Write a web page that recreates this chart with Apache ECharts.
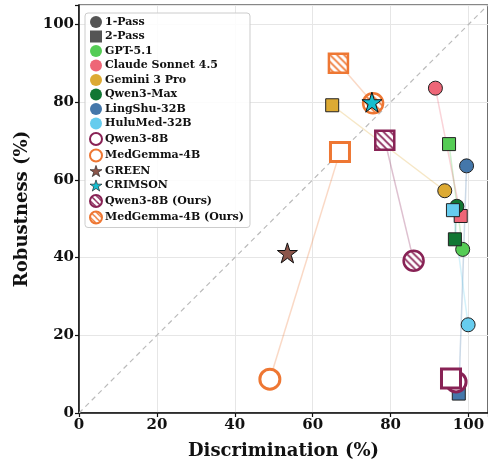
<!DOCTYPE html>
<html>
<head>
<meta charset="utf-8">
<script src="https://cdn.jsdelivr.net/npm/echarts@6/dist/echarts.min.js"></script>
<style>
html,body{margin:0;padding:0;background:#fff;}
#chart{width:488px;height:461px;}
</style>
</head>
<body>
<div id="chart"></div>
<script>
// ---------------- DATA ----------------
const models = ['GPT-5.1', 'Claude Sonnet 4.5', 'Gemini 3 Pro', 'Qwen3-Max', 'LingShu-32B', 'HuluMed-32B', 'Qwen3-8B', 'MedGemma-4B', 'Qwen3-8B (Ours)', 'MedGemma-4B (Ours)'];
const pass1Discrimination = [98.5, 91.5, 93.9, 97.0, 99.5, 99.9, 96.8, 49.0, 85.9, 75.5];
const pass1Robustness     = [42.1, 83.6, 57.2, 53.2, 63.6, 22.7, 8.0, 8.7, 39.2, 79.7];
const pass2Discrimination = [95.0, 98.0, 65.0, 96.5, 97.5, 96.0, 95.5, 67.0, 78.5, 66.6];
const pass2Robustness     = [69.2, 50.7, 79.2, 44.7, 5.0, 52.2, 8.9, 67.2, 70.2, 90.0];
const baselineNames = ['GREEN', 'CRIMSON'];
const baselineDiscrimination = [53.5, 75.2];
const baselineRobustness = [41.2, 80.0];
const passNames = ['1-Pass', '2-Pass'];
const regionLabels = ['D < R', 'D > R'];
const regionLabelPos = [[71.5, 98.2], [71.5, 15.1]];
const axisTicks = [0, 20, 40, 60, 80, 100];

// ---------------- STYLE ----------------
const modelColors = ['#55cc55', '#ee6677', '#ddaa33', '#117733', '#4477aa', '#66ccee', '#882255', '#ee7733', '#882255', '#ee7733'];
const modelKinds = ['filled', 'filled', 'filled', 'filled', 'filled', 'filled', 'open', 'open', 'hatched', 'hatched'];
const baselineColors = ['#8c564b', '#17becf'];
const SERIF = '"DejaVu Serif", serif';

function hatch(color, scale) {
  const s = 7;
  const c = document.createElement('canvas');
  c.width = s; c.height = s;
  const g = c.getContext('2d');
  g.fillStyle = '#ffffff';
  g.fillRect(0, 0, s, s);
  g.strokeStyle = color;
  g.lineWidth = 1.6;
  g.beginPath();
  g.moveTo(-1, -1); g.lineTo(s + 1, s + 1);
  g.moveTo(-1, s - 1); g.lineTo(1, s + 1);
  g.moveTo(s - 1, -1); g.lineTo(s + 1, 1);
  g.stroke();
  return { image: c, repeat: 'repeat', scaleX: scale, scaleY: scale };
}

const chart = echarts.init(document.getElementById('chart'), null, { renderer: 'canvas' });

const series = [];

// diagonal reference
series.push({
  name: 'diag', type: 'line', data: [[0, 0], [105, 105]], symbol: 'none', silent: true,
  lineStyle: { color: '#bbbbbb', width: 1.2, type: [5, 4] }, z: 1
});

// connecting lines
models.forEach((m, i) => {
  series.push({
    name: m + ' link', type: 'line', symbol: 'none', silent: true, z: 2,
    data: [[pass1Discrimination[i], pass1Robustness[i]], [pass2Discrimination[i], pass2Robustness[i]]],
    lineStyle: { color: modelColors[i], width: 1.5, opacity: 0.28 }
  });
});

// pass legend placeholders
series.push({ name: passNames[0], type: 'scatter', data: [], symbol: 'circle', itemStyle: { color: '#555555', opacity: 1 } });
series.push({ name: passNames[1], type: 'scatter', data: [], symbol: 'rect', itemStyle: { color: '#555555', opacity: 1 } });

// model points
models.forEach((m, i) => {
  const kind = modelKinds[i];
  const col = modelColors[i];
  let itemStyle, s1, s2, c1 = null, c2 = null;
  if (kind === 'filled') {
    itemStyle = { color: col, borderColor: '#222222', borderWidth: 1, opacity: 1 };
    s1 = 14; s2 = 13;
  } else if (kind === 'open') {
    itemStyle = { color: '#ffffff', borderColor: col, borderWidth: 3, opacity: 1 };
    s1 = 20; s2 = 19;
  } else {
    s1 = 20; s2 = 19;
    itemStyle = { color: hatch(col, 0.8), borderColor: col, borderWidth: 2.5, opacity: 1 };
    c1 = hatch(col, 2 / s1);
    c2 = hatch(col, 2 / s2);
  }
  const d1 = { value: [pass1Discrimination[i], pass1Robustness[i]], symbol: 'circle', symbolSize: s1 };
  const d2 = { value: [pass2Discrimination[i], pass2Robustness[i]], symbol: 'rect', symbolSize: s2 };
  if (c1) { d1.itemStyle = { color: c1 }; d2.itemStyle = { color: c2 }; }
  series.push({
    name: m, type: 'scatter', z: kind === 'filled' ? 3 : 4,
    itemStyle: itemStyle, symbol: 'circle',
    data: [d1, d2]
  });
});

// baselines (stars)
const starPath = 'path://M50,0 L61.8,35.4 L100,35.4 L69.1,57.3 L80.9,93.2 L50,71.4 L19.1,93.2 L30.9,57.3 L0,35.4 L38.2,35.4 Z';
baselineNames.forEach((b, i) => {
  series.push({
    name: b, type: 'scatter', z: 5, symbol: starPath, symbolSize: 20,
    itemStyle: { color: baselineColors[i], borderColor: '#111111', borderWidth: 1, opacity: 1 },
    data: [[baselineDiscrimination[i], baselineRobustness[i]]]
  });
});

// region labels
series.push({
  name: 'regions', type: 'scatter', symbol: 'none', silent: true, z: 2,
  data: regionLabels.map((t, i) => ({ value: regionLabelPos[i], name: t })),
  label: {
    show: true, position: 'inside', formatter: p => p.name,
    fontFamily: '"DejaVu Sans", sans-serif', fontStyle: 'italic', fontWeight: 'bold',
    fontSize: 20, color: '#777777'
  }
});

const legendData = [
  { name: passNames[0], icon: 'circle' },
  { name: passNames[1], icon: 'rect' }
].concat(models.slice(0, 6).map(m => ({ name: m, icon: 'circle', itemStyle: { borderWidth: 0 } })))
 .concat(models.slice(6, 8).map(m => ({ name: m, icon: 'circle' })))
 .concat(baselineNames.map((b, i) => ({ name: b, icon: starPath,
   itemStyle: { color: baselineColors[i], borderColor: '#111111', borderWidth: 0.6 } })))
 .concat(models.slice(8).map(m => ({ name: m, icon: 'circle' })));

function axisCommon(name, gap) {
  return {
    type: 'value', min: 0, max: 105, interval: 20,
    name: name, nameLocation: 'middle', nameGap: gap,
    nameTextStyle: { fontFamily: SERIF, fontWeight: 'bold', fontSize: 18, color: '#111' },
    axisLine: { show: true, onZero: false, lineStyle: { color: '#111', width: 1.5 } },
    axisTick: { show: true, length: 4, lineStyle: { color: '#111', width: 1.2 } },
    axisLabel: { fontFamily: SERIF, fontWeight: 'bold', fontSize: 15, color: '#111', margin: 5,
      formatter: v => (axisTicks.indexOf(v) >= 0 ? String(v) : '') },
    splitLine: { show: true, lineStyle: { color: '#e6e6e6', width: 1 } }
  };
}

chart.setOption({
  animation: false,
  backgroundColor: '#ffffff',
  grid: { left: 79, right: 0, top: 5, bottom: 48, containLabel: false, outerBoundsMode: 'none',
    show: true, borderColor: '#111', borderWidth: 1.2, backgroundColor: 'transparent' },
  xAxis: axisCommon('Discrimination (%)', 29),
  yAxis: axisCommon('Robustness (%)', 44),
  legend: {
    orient: 'vertical', left: 85, top: 13,
    data: legendData,
    itemWidth: 12, itemHeight: 12, itemGap: 2.5,
    padding: [3, 6, 3, 4],
    backgroundColor: 'rgba(255,255,255,0.85)',
    borderColor: '#cccccc', borderWidth: 1, borderRadius: 3,
    textStyle: { fontFamily: SERIF, fontWeight: 'bold', fontSize: 11, lineHeight: 12, color: '#111', padding: [0, 0, 0, -2] },
    selectedMode: false
  },
  series: series
});
</script>
</body>
</html>
